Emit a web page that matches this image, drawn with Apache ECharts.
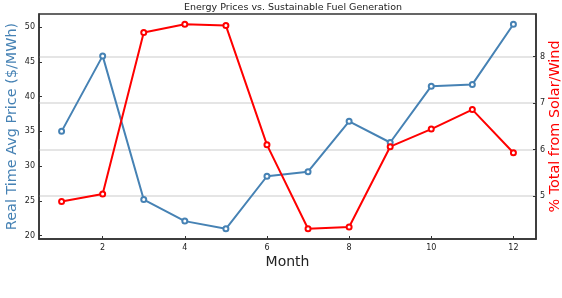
<!DOCTYPE html>
<html>
<head>
<meta charset="utf-8">
<script src="https://cdn.jsdelivr.net/npm/echarts@6/dist/echarts.min.js"></script>
<style>html,body{margin:0;padding:0;background:#fff;}#c{width:562px;height:298px;}</style>
</head>
<body>
<div id="c"></div>
<script>
const months = [1,2,3,4,5,6,7,8,9,10,11,12];
const priceValues = [35.0, 45.85, 25.2, 22.1, 21.0, 28.55, 29.2, 36.45, 33.4, 41.5, 41.75, 50.4];
const solarWindPct = [4.88, 5.04, 8.52, 8.70, 8.67, 6.10, 4.29, 4.33, 6.06, 6.44, 6.86, 5.93];
const xTicks = [2,4,6,8,10,12];
const leftTicks = [20,25,30,35,40,45,50];
const rightTicks = [5,6,7,8];

const font = 'DejaVu Sans';
const chart = echarts.init(document.getElementById('c'), null, {renderer:'canvas'});
const spine = {show:true, lineStyle:{color:'#333', width:1.5}};
chart.setOption({
  animation:false,
  title:{text:'Energy Prices vs. Sustainable Fuel Generation', left:288, top:-2, textAlign:'center',
    textStyle:{fontFamily:font, fontSize:9.5, fontWeight:'normal', color:'#222'}},
  grid:{left:39, right:26, top:14, bottom:59, show:true, borderColor:'#333', borderWidth:1.5,
    containLabel:false, outerBoundsMode:'none'},
  xAxis:{type:'value', min:0.45, max:12.55, name:'Month', nameLocation:'middle', nameGap:16,
    nameMoveOverlap:false,
    nameTextStyle:{fontFamily:font, fontSize:14, color:'#222'},
    axisLine:spine, splitLine:{show:false},
    axisTick:{inside:true, length:3, customValues:xTicks, lineStyle:{color:'#333'}},
    axisLabel:{customValues:xTicks, fontFamily:font, fontSize:8, color:'#222', margin:5}},
  yAxis:[
    {type:'value', min:19.53, max:51.87, position:'left', name:'Real Time Avg Price ($/MWh)',
      nameLocation:'middle', nameGap:26.5, nameRotate:90, nameMoveOverlap:false,
      nameTextStyle:{fontFamily:font, fontSize:14.4, color:'#4682b4', align:'center', verticalAlign:'middle'},
      axisLine:spine, splitLine:{show:false},
      axisTick:{inside:true, length:3, customValues:leftTicks, lineStyle:{color:'#333'}},
      axisLabel:{customValues:leftTicks, fontFamily:font, fontSize:8, color:'#222', margin:4}},
    {type:'value', min:4.07, max:8.92, position:'right', name:'% Total from Solar/Wind',
      nameLocation:'middle', nameGap:19, nameRotate:90, nameMoveOverlap:false,
      nameTextStyle:{fontFamily:font, fontSize:14.4, color:'#ff0000', align:'center', verticalAlign:'middle'},
      axisLine:spine,
      splitLine:{show:true, lineStyle:{color:'#dcdcdc', width:1.5}},
      axisTick:{inside:true, length:3, customValues:rightTicks, lineStyle:{color:'#333'}},
      axisLabel:{customValues:rightTicks, fontFamily:font, fontSize:8, color:'#222', margin:4}}
  ],
  series:[
    {type:'line', yAxisIndex:0, data:months.map((m,i)=>[m, priceValues[i]]),
      symbol:'emptyCircle', symbolSize:5, lineStyle:{color:'#4682b4', width:2},
      itemStyle:{color:'#4682b4', borderWidth:1.2}},
    {type:'line', yAxisIndex:1, data:months.map((m,i)=>[m, solarWindPct[i]]),
      symbol:'emptyCircle', symbolSize:5, lineStyle:{color:'#ff0000', width:2},
      itemStyle:{color:'#ff0000', borderWidth:1.2}}
  ]
});
</script>
</body>
</html>
